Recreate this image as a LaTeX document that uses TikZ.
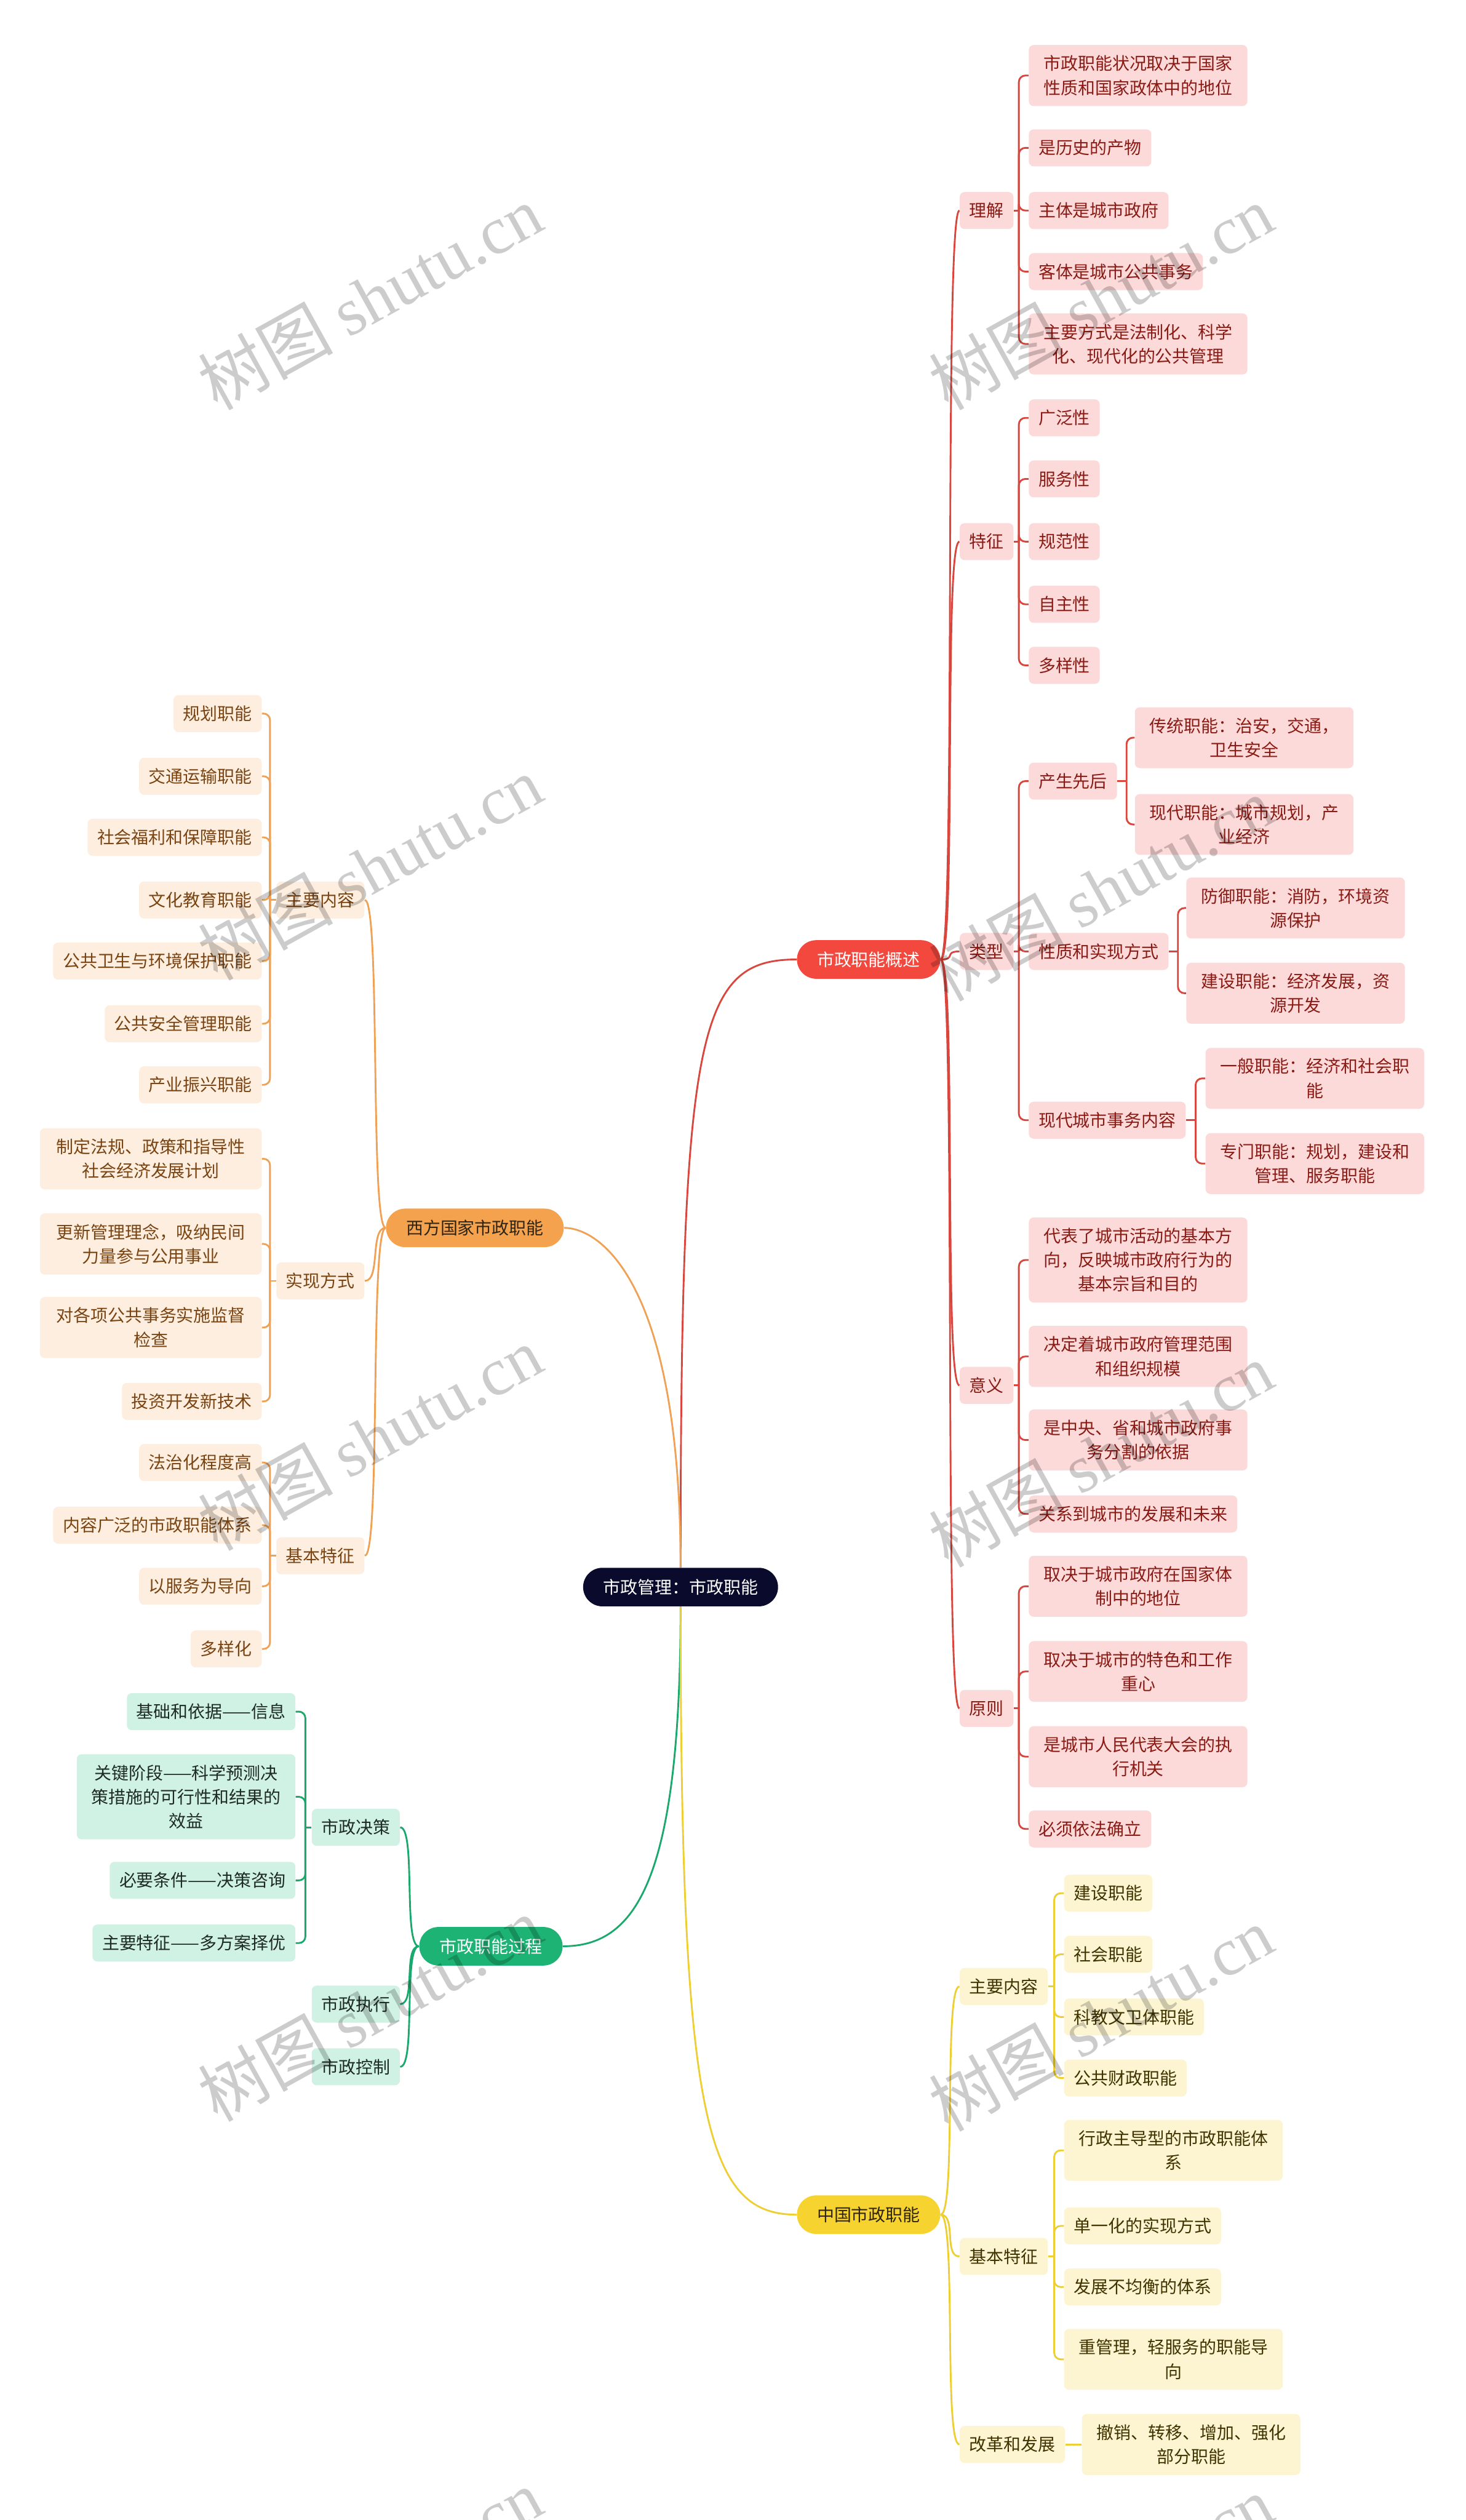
\documentclass[tikz,border=0pt]{standalone}
\usepackage{fontspec}
\setmainfont{Noto Sans CJK SC}
\newfontfamily\wmfont{Liberation Serif}

% 颜色
\definecolor{zhongxin}{HTML}{0A0A2C}
\definecolor{hongse}{HTML}{F2483E}
\definecolor{hongxian}{HTML}{D9463E}
\definecolor{hongdi}{HTML}{FDDADA}
\definecolor{hongzi}{HTML}{8A1B14}
\definecolor{chengse}{HTML}{F5A24F}
\definecolor{chengxian}{HTML}{EFA255}
\definecolor{chengdi}{HTML}{FDEEDF}
\definecolor{chengzi}{HTML}{7A4412}
\definecolor{lvse}{HTML}{1CB374}
\definecolor{lvxian}{HTML}{1AA86D}
\definecolor{lvdi}{HTML}{D0F2E4}
\definecolor{lvzi}{HTML}{1E2B24}
\definecolor{huangse}{HTML}{F6D32E}
\definecolor{huangxian}{HTML}{EDCF33}
\definecolor{huangdi}{HTML}{FDF5D2}
\definecolor{huangzi}{HTML}{3F3400}
\definecolor{shenzi}{HTML}{2E2414}

\begin{document}
\begin{tikzpicture}[x=1pt, y=-1pt,
every node/.style={font=\fontsize{10.7}{15}\selectfont, inner ysep=6.5pt},
zhu/.style={rounded corners=12pt, inner xsep=12.5pt, minimum height=24pt},
ye/.style={rounded corners=3pt, inner xsep=6pt, minimum height=23pt, align=center},
hongye/.style={ye, fill=hongdi, text=hongzi},
chengye/.style={ye, fill=chengdi, text=chengzi},
lvye/.style={ye, fill=lvdi, text=lvzi},
huangye/.style={ye, fill=huangdi, text=huangzi},
honglian/.style={draw=hongxian, line width=1.1pt},
chenglian/.style={draw=chengxian, line width=1.1pt},
lvlian/.style={draw=lvxian, line width=1.1pt},
huanglian/.style={draw=huangxian, line width=1.1pt},
hongzhe/.style={honglian, rounded corners=4pt},
chengzhe/.style={chenglian, rounded corners=4pt},
lvzhe/.style={lvlian, rounded corners=4pt},
huangzhe/.style={huanglian, rounded corners=4pt}
]
\useasboundingbox (0,0) rectangle (912,1568);
\fill[white] (0,0) rectangle (912,1568);

% ---- 中心主题 ----
\node[zhu, fill=zhongxin, text=white] (root) at (423.5,987.5) {市政管理：市政职能};

% ---- 四个分支 ----
\node[zhu, fill=hongse, text=white] (gs) at (540.5,597) {市政职能概述};
\node[zhu, fill=chengse, text=shenzi] (xf) at (295.5,764) {西方国家市政职能};
\node[zhu, fill=lvse, text=white] (gc) at (305.5,1211) {市政职能过程};
\node[zhu, fill=huangse, text=shenzi] (zg) at (540.5,1378) {中国市政职能};

\draw[honglian] (root.north) .. controls +(0,-336) and +(-61,0) .. (gs.west);
\draw[chenglian] (root.north) .. controls +(0,-176) and +(23,0) .. (xf.east);
\draw[lvlian] (root.south) .. controls +(0,171) and +(45,0) .. (gc.east);
\draw[huanglian] (root.south) .. controls +(0,321) and +(-56,0) .. (zg.west);

% ---- 市政职能概述 ----
\foreach \n/\y/\txt in {lj/131/理解, tz/337/特征, lx/592/类型, yy/862/意义, yz/1063/原则} {
    \node[hongye, anchor=west] (gs-\n) at (597,\y) {\txt};
    \draw[honglian] (gs.east) .. controls +(10,0) and +(-10,0) .. (gs-\n.west);
}

% 理解
\coordinate (lj-s) at (634,131);
\draw[honglian] (gs-lj.east) -- (lj-s);
\foreach \i/\y/\w/\txt in {1/47/136pt/{市政职能状况取决于国家\\性质和国家政体中的地位},
    2/92/0pt/是历史的产物, 3/131/0pt/主体是城市政府, 4/169/0pt/客体是城市公共事务,
    5/214/136pt/{主要方式是法制化、科学\\化、现代化的公共管理}} {
    \node[hongye, anchor=west, minimum width=\w] (lj\i) at (640,\y) {\txt};
    \draw[hongzhe] (lj-s) |- (lj\i.west);
}

% 特征
\coordinate (tz-s) at (634,337);
\draw[honglian] (gs-tz.east) -- (tz-s);
\foreach \i/\y/\txt in {1/260/广泛性, 2/298/服务性, 3/337/规范性, 4/376/自主性, 5/414/多样性} {
    \node[hongye, anchor=west] (tz\i) at (640,\y) {\txt};
    \draw[hongzhe] (tz-s) |- (tz\i.west);
}

% 类型
\coordinate (lx-s) at (634,592);
\draw[honglian] (gs-lx.east) -- (lx-s);
\foreach \n/\y/\txt in {cs/486/产生先后, xz/592/性质和实现方式, xd/697/现代城市事务内容} {
    \node[hongye, anchor=west] (lx-\n) at (640,\y) {\txt};
    \draw[hongzhe] (lx-s) |- (lx-\n.west);
}

\coordinate (cs-s) at (701,486);
\draw[honglian] (lx-cs.east) -- (cs-s);
\foreach \i/\y/\txt in {1/459/{传统职能：治安，交通，\\卫生安全}, 2/513/{现代职能：城市规划，产\\业经济}} {
    \node[hongye, anchor=west, minimum width=136pt] (cs\i) at (706,\y) {\txt};
    \draw[hongzhe] (cs-s) |- (cs\i.west);
}

\coordinate (xz-s) at (733,592);
\draw[honglian] (lx-xz.east) -- (xz-s);
\foreach \i/\y/\txt in {1/565/{防御职能：消防，环境资\\源保护}, 2/618/{建设职能：经济发展，资\\源开发}} {
    \node[hongye, anchor=west, minimum width=136pt] (xz\i) at (738,\y) {\txt};
    \draw[hongzhe] (xz-s) |- (xz\i.west);
}

\coordinate (xd-s) at (744,697);
\draw[honglian] (lx-xd.east) -- (xd-s);
\foreach \i/\y/\txt in {1/671/{一般职能：经济和社会职\\能}, 2/724/{专门职能：规划，建设和\\管理、服务职能}} {
    \node[hongye, anchor=west, minimum width=136pt] (xd\i) at (750,\y) {\txt};
    \draw[hongzhe] (xd-s) |- (xd\i.west);
}

% 意义
\coordinate (yy-s) at (634,862);
\draw[honglian] (gs-yy.east) -- (yy-s);
\foreach \i/\y/\w/\txt in {1/784/136pt/{代表了城市活动的基本方\\向，反映城市政府行为的\\基本宗旨和目的},
    2/844/136pt/{决定着城市政府管理范围\\和组织规模}, 3/896/136pt/{是中央、省和城市政府事\\务分割的依据},
    4/942/0pt/关系到城市的发展和未来} {
    \node[hongye, anchor=west, minimum width=\w] (yy\i) at (640,\y) {\txt};
    \draw[hongzhe] (yy-s) |- (yy\i.west);
}

% 原则
\coordinate (yz-s) at (634,1063);
\draw[honglian] (gs-yz.east) -- (yz-s);
\foreach \i/\y/\w/\txt in {1/987/136pt/{取决于城市政府在国家体\\制中的地位},
    2/1040/136pt/{取决于城市的特色和工作\\重心}, 3/1093/136pt/{是城市人民代表大会的执\\行机关},
    4/1138/0pt/必须依法确立} {
    \node[hongye, anchor=west, minimum width=\w] (yz\i) at (640,\y) {\txt};
    \draw[hongzhe] (yz-s) |- (yz\i.west);
}

% ---- 西方国家市政职能 ----
\foreach \n/\y/\txt in {zy/560/主要内容, sx/797/实现方式, jb/968/基本特征} {
    \node[chengye, anchor=east] (xf-\n) at (227,\y) {\txt};
    \draw[chenglian] (xf.west) .. controls +(-10,0) and +(10,0) .. (xf-\n.east);
}

\coordinate (xzy-s) at (168,560);
\draw[chenglian] (xf-zy.west) -- (xzy-s);
\foreach \i/\y/\txt in {1/444/规划职能, 2/483/交通运输职能, 3/521/社会福利和保障职能, 4/560/文化教育职能,
    5/598/公共卫生与环境保护职能, 6/637/公共安全管理职能, 7/675/产业振兴职能} {
    \node[chengye, anchor=east] (xzy\i) at (163,\y) {\txt};
    \draw[chengzhe] (xzy-s) |- (xzy\i.east);
}

\coordinate (xsx-s) at (168,797);
\draw[chenglian] (xf-sx.west) -- (xsx-s);
\foreach \i/\y/\w/\txt in {1/721/138pt/{制定法规、政策和指导性\\社会经济发展计划},
    2/774/138pt/{更新管理理念，吸纳民间\\力量参与公用事业}, 3/826/138pt/{对各项公共事务实施监督\\检查},
    4/872/0pt/投资开发新技术} {
    \node[chengye, anchor=east, minimum width=\w] (xsx\i) at (163,\y) {\txt};
    \draw[chengzhe] (xsx-s) |- (xsx\i.east);
}

\coordinate (xjb-s) at (168,968);
\draw[chenglian] (xf-jb.west) -- (xjb-s);
\foreach \i/\y/\txt in {1/910/法治化程度高, 2/949/内容广泛的市政职能体系, 3/987/以服务为导向, 4/1026/多样化} {
    \node[chengye, anchor=east] (xjb\i) at (163,\y) {\txt};
    \draw[chengzhe] (xjb-s) |- (xjb\i.east);
}

% ---- 市政职能过程 ----
\foreach \n/\y/\txt in {jc/1137/市政决策, zx/1247/市政执行, kz/1286/市政控制} {
    \node[lvye, anchor=east] (gc-\n) at (249,\y) {\txt};
    \draw[lvlian] (gc.west) .. controls +(-10,0) and +(10,0) .. (gc-\n.east);
}

\coordinate (jc-s) at (190,1137);
\draw[lvlian] (gc-jc.west) -- (jc-s);
\foreach \i/\y/\w/\txt in {1/1065/0pt/基础和依据——信息,
    2/1118/136pt/{关键阶段——科学预测决\\策措施的可行性和结果的\\效益},
    3/1170/0pt/必要条件——决策咨询, 4/1209/0pt/主要特征——多方案择优} {
    \node[lvye, anchor=east, minimum width=\w] (jc\i) at (184,\y) {\txt};
    \draw[lvzhe] (jc-s) |- (jc\i.east);
}

% ---- 中国市政职能 ----
\foreach \n/\y/\txt in {zy/1236/主要内容, jb/1404/基本特征, gg/1521/改革和发展} {
    \node[huangye, anchor=west] (zg-\n) at (597,\y) {\txt};
    \draw[huanglian] (zg.east) .. controls +(10,0) and +(-10,0) .. (zg-\n.west);
}

\coordinate (zzy-s) at (656,1236);
\draw[huanglian] (zg-zy.east) -- (zzy-s);
\foreach \i/\y/\txt in {1/1178/建设职能, 2/1216/社会职能, 3/1255/科教文卫体职能, 4/1293/公共财政职能} {
    \node[huangye, anchor=west] (zzy\i) at (662,\y) {\txt};
    \draw[huangzhe] (zzy-s) |- (zzy\i.west);
}

\coordinate (zjb-s) at (656,1404);
\draw[huanglian] (zg-jb.east) -- (zjb-s);
\foreach \i/\y/\w/\txt in {1/1338/136pt/{行政主导型的市政职能体\\系}, 2/1385/0pt/单一化的实现方式,
    3/1423/0pt/发展不均衡的体系, 4/1468/136pt/{重管理，轻服务的职能导\\向}} {
    \node[huangye, anchor=west, minimum width=\w] (zjb\i) at (662,\y) {\txt};
    \draw[huangzhe] (zjb-s) |- (zjb\i.west);
}

\node[huangye, anchor=west, minimum width=136pt] (zgg1) at (673,1521) {撤销、转移、增加、强化\\部分职能};
\draw[huanglian] (zg-gg.east) -- (zgg1.west);

% ---- 水印 ----
\begin{scope}
\clip (0,0) rectangle (912,1568);
\foreach \x/\y [count=\k] in {230/185, 685/185, 230/540, 685/553, 230/895, 685/905,
    230/1250, 685/1256, 230/1606, 685/1610} {
    \node[rotate=29, text=black, opacity=0.2, inner sep=0pt, font=\fontsize{42}{42}\selectfont] (wm\k) at (\x,\y) {树图 {\wmfont shutu.cn}};
}
\end{scope}
\end{tikzpicture}
\end{document}
